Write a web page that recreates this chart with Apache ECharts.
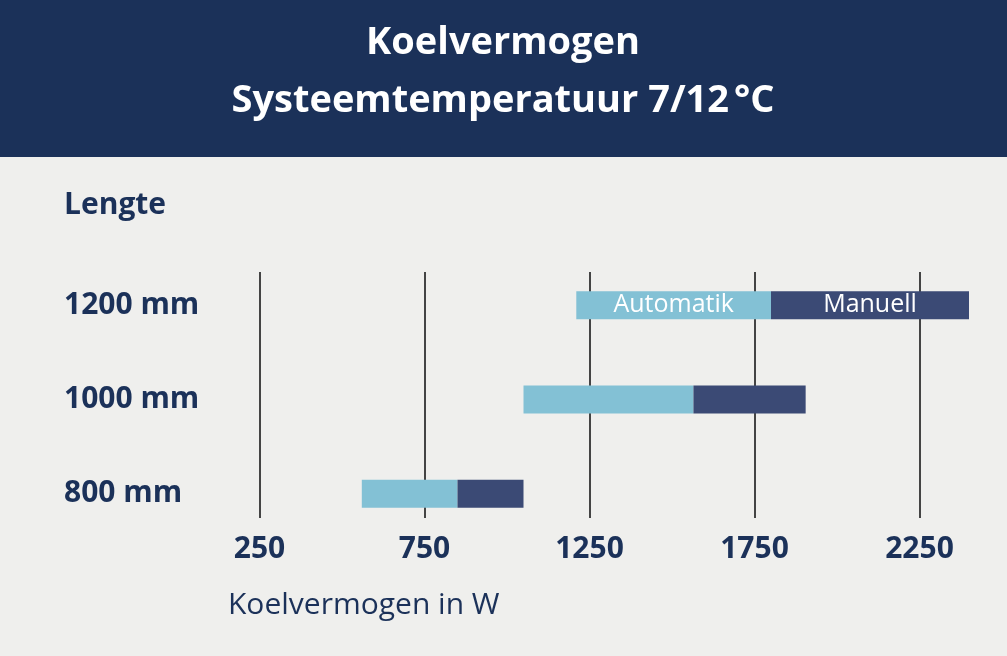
<!DOCTYPE html>
<html><head><meta charset="utf-8">
<script src="https://cdn.jsdelivr.net/npm/echarts@6/dist/echarts.min.js"></script>
<style>html,body{margin:0;padding:0;background:#efefed}#c{width:1007px;height:656px}</style>
</head><body><div id="c"></div>
<script>
const categories = ['800 mm', '1000 mm', '1200 mm'];
const startValues = [560, 1050, 1210];
const automatikValues = [290, 515, 590];
const manuellValues = [200, 340, 600];
const tickLabels = [250, 750, 1250, 1750, 2250];
const titleLines = ['Koelvermogen', 'Systeemtemperatuur 7/12\u202F°C'];

const navy = '#1b3159';
const font = '"Open Sans", sans-serif';
const chart = echarts.init(document.getElementById('c'));
chart.setOption({
  backgroundColor: '#efefed',
  animation: false,
  graphic: [
    {type: 'rect', shape: {x: 0, y: 0, width: 1007, height: 157}, style: {fill: navy}},
    {type: 'text', x: 503, y: 24, style: {text: titleLines[0], fill: '#fff', font: 'bold 38px ' + font, align: 'center'}},
    {type: 'text', x: 503, y: 82, style: {text: titleLines[1], fill: '#fff', font: 'bold 38px ' + font, align: 'center'}},
    {type: 'text', left: 64, top: 190, style: {text: 'Lengte', fill: navy, font: 'bold 30px ' + font}},
    {type: 'text', left: 228, top: 590, style: {text: 'Koelvermogen in W', fill: navy, font: '30px ' + font}}
  ],
  grid: [
    {left: 177, width: 825, top: 272, height: 246},
    {left: 177, width: 825, top: 258, height: 283}
  ],
  xAxis: [
    {gridIndex: 0, type: 'value', min: 0, max: 2500, interval: 250,
     axisLine: {show: false}, axisTick: {show: false},
     splitLine: {show: true, lineStyle: {color: ['rgba(0,0,0,0)', '#444'], width: 2}},
     axisLabel: {margin: 16, color: navy, fontSize: 30, fontWeight: 'bold', fontFamily: font,
       formatter: v => tickLabels.includes(v) ? String(v) : ''}},
    {gridIndex: 1, type: 'value', min: 0, max: 2500, show: false, splitLine: {show: false}}
  ],
  yAxis: [
    {gridIndex: 0, type: 'value', show: false},
    {gridIndex: 1, type: 'category', data: categories,
     axisLine: {show: false}, axisTick: {show: false},
     axisLabel: {align: 'left', margin: 113, color: navy, fontSize: 30, fontWeight: 'bold', fontFamily: font}}
  ],
  series: [
    {type: 'bar', xAxisIndex: 1, yAxisIndex: 1, stack: 's', data: startValues, barWidth: 28,
     itemStyle: {color: 'rgba(0,0,0,0)'}, silent: true},
    {type: 'bar', xAxisIndex: 1, yAxisIndex: 1, stack: 's', data: automatikValues, barWidth: 28,
     itemStyle: {color: '#83c1d5'},
     label: {show: true, position: 'inside', color: '#fff', fontSize: 25, fontFamily: font,
       formatter: p => p.dataIndex === 2 ? 'Automatik' : ''}},
    {type: 'bar', xAxisIndex: 1, yAxisIndex: 1, stack: 's', data: manuellValues, barWidth: 28,
     itemStyle: {color: '#3b4a75'},
     label: {show: true, position: 'inside', color: '#fff', fontSize: 25, fontFamily: font,
       formatter: p => p.dataIndex === 2 ? 'Manuell' : ''}}
  ]
});
</script></body></html>
